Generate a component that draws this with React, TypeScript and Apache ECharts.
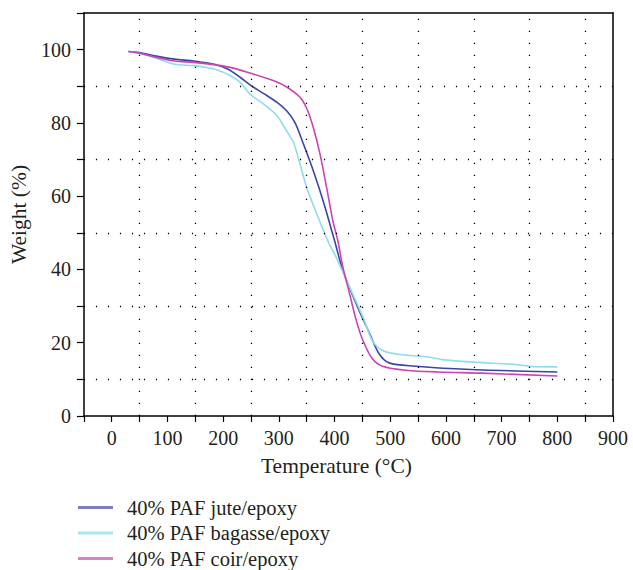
import React, { useEffect, useRef } from "react";
import * as echarts from "echarts";

const seriesNames = ["40% PAF jute/epoxy", "40% PAF bagasse/epoxy", "40% PAF coir/epoxy"];

const juteT = [30, 50, 77, 113, 148, 184, 208, 231, 249, 273, 297, 314, 329, 344, 362, 380, 400, 415, 439, 463, 480, 498, 545, 617, 700, 800];
const juteW = [99.5, 99.2, 98.3, 97.4, 96.9, 96.0, 94.7, 92.4, 90.3, 88.0, 85.6, 83.3, 80.1, 74.3, 66.9, 58.5, 47.9, 39.7, 30.6, 22.5, 17.0, 14.5, 13.6, 12.9, 12.4, 12.0];

const bagasseT = [30, 50, 77, 113, 148, 184, 214, 231, 249, 273, 297, 314, 326, 338, 350, 368, 388, 403, 427, 451, 468, 486, 522, 569, 593, 652, 729, 753, 800];
const bagasseW = [99.5, 99.0, 97.8, 96.0, 95.6, 94.7, 92.8, 91.0, 87.8, 85.1, 81.9, 77.8, 74.8, 68.8, 62.4, 55.2, 47.8, 43.3, 35.2, 27.0, 20.6, 17.9, 16.7, 16.1, 15.4, 14.7, 14.0, 13.5, 13.4];

const coirT = [30, 50, 77, 113, 148, 208, 255, 291, 314, 338, 350, 362, 374, 385, 397, 406, 415, 427, 439, 451, 468, 486, 528, 587, 664, 800];
const coirW = [99.5, 99.0, 98.0, 96.9, 96.5, 95.3, 93.3, 91.5, 89.8, 87.0, 84.0, 78.7, 71.5, 63.0, 53.3, 47.8, 40.6, 33.4, 26.1, 20.6, 15.6, 13.6, 12.5, 12.0, 11.7, 10.9];

const gridX = [50, 150, 250, 350, 450, 550, 650, 750, 850];
const gridY = [10, 30, 50, 70, 90];

const lineColors = ["#3c44a8", "#8edcec", "#cc44b4"];
const legendColors = ["#7a7cc4", "#a6e6f2", "#d882c8"];

const FONT = "Liberation Serif";

export default function App() {
  const ref = useRef<HTMLDivElement>(null);
  useEffect(() => {
    if (!ref.current) return;
    const chart = echarts.init(ref.current, undefined, { renderer: "svg" });
    const pairs = (t: number[], w: number[]) => t.map((v, i) => [v, w[i]]);
    const datasets = [pairs(juteT, juteW), pairs(bagasseT, bagasseW), pairs(coirT, coirW)];
    const axisText = { color: "#231f20", fontFamily: FONT, fontSize: 20 };
    const nameText = { color: "#231f20", fontFamily: FONT, fontSize: 21.5 };
    const option: any = {
      animation: false,
      grid: { left: 78, top: 13, width: 535, height: 403, containLabel: false },
      xAxis: [
        {
          type: "value",
          min: -50,
          max: 900,
          interval: 50,
          name: "Temperature (°C)",
          nameLocation: "middle",
          nameGap: 39,
          nameTextStyle: { ...nameText, padding: [0, 24, 0, 0] },
          axisLine: { show: true, onZero: false, lineStyle: { color: "#000", width: 1.5 } },
          axisTick: { show: true, inside: false, length: 6, lineStyle: { color: "#000", width: 1.2 } },
          axisLabel: {
            ...axisText,
            margin: 12,
            formatter: (v: number) => (v % 100 === 0 && v >= 0 ? String(v) : ""),
          },
          splitLine: { show: false },
        },
        {
          type: "value",
          position: "top",
          min: -50,
          max: 900,
          axisLine: { show: true, onZero: false, lineStyle: { color: "#000", width: 1.5 } },
          axisTick: { show: false },
          axisLabel: { show: false },
          splitLine: { show: false },
        },
      ],
      yAxis: [
        {
          type: "value",
          min: 0,
          max: 110,
          interval: 10,
          name: "Weight (%)",
          nameLocation: "middle",
          nameGap: 48,
          nameTextStyle: nameText,
          axisLine: { show: true, onZero: false, lineStyle: { color: "#000", width: 1.5 } },
          axisTick: { show: true, inside: false, length: 7, lineStyle: { color: "#000", width: 1.2 } },
          axisLabel: {
            ...axisText,
            margin: 13,
            formatter: (v: number) => (v % 20 === 0 ? String(v) : ""),
          },
          splitLine: { show: false },
        },
        {
          type: "value",
          position: "right",
          min: 0,
          max: 110,
          axisLine: { show: true, onZero: false, lineStyle: { color: "#000", width: 1.5 } },
          axisTick: { show: false },
          axisLabel: { show: false },
          splitLine: { show: false },
        },
      ],
      legend: {
        type: "plain",
        orient: "vertical",
        left: 78,
        top: 497,
        padding: 0,
        itemWidth: 35,
        itemHeight: 3,
        itemGap: 4.5,
        icon: "rect",
        textStyle: { color: "#231f20", fontFamily: FONT, fontSize: 20.5, lineHeight: 20.5, padding: [0, 0, 0, 9] },
        data: seriesNames.map((n, i) => ({ name: n, itemStyle: { color: legendColors[i] } })),
      },
      series: seriesNames.map((name, i) => ({
        name,
        type: "line",
        data: datasets[i],
        showSymbol: false,
        smooth: 0.3,
        lineStyle: { color: lineColors[i], width: 1.6 },
        itemStyle: { color: lineColors[i] },
        z: 3,
        markLine:
          i === 0
            ? {
                silent: true,
                symbol: ["none", "none"],
                label: { show: false },
                lineStyle: { type: [1.2, 10.8], color: "#000", width: 1.3 },
                emphasis: { disabled: true },
                data: [...gridX.map((v) => ({ xAxis: v })), ...gridY.map((v) => ({ yAxis: v }))],
              }
            : undefined,
      })),
    };
    chart.setOption(option);
    return () => chart.dispose();
  }, []);
  return <div ref={ref} style={{ width: 633, height: 570, position: "absolute", left: 0, top: 0 }} />;
}
